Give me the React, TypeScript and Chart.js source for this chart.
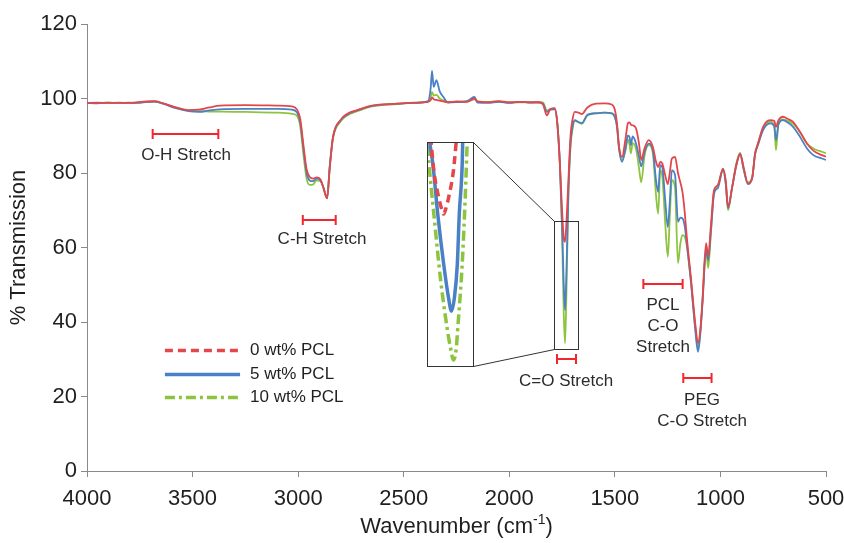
import React, { useEffect, useRef } from "react";
import { Chart, registerables } from "chart.js";

Chart.register(...registerables);

const FONT = '"Liberation Sans", Arial, Helvetica, sans-serif';

// ---------- data (wavenumber in cm-1, % transmission) ----------
const wavenumbers = [
  4000, 3950, 3900, 3850, 3800, 3760, 3720, 3680, 3640, 3580, 3520, 3470, 3420, 3370, 3250, 3100, 3030, 3005, 2990, 2975,
  2960, 2945, 2930, 2912, 2895, 2880, 2863, 2850, 2835, 2800, 2770, 2720, 2650, 2530, 2450, 2385, 2372, 2366, 2358, 2345,
  2330, 2312, 2290, 2250, 2200, 2165, 2150, 2100, 2050, 2000, 1950, 1900, 1860, 1840, 1822, 1805, 1785, 1772, 1760, 1750,
  1742, 1736, 1730, 1720, 1710, 1700, 1690, 1672, 1656, 1630, 1590, 1550, 1515, 1500, 1490, 1480, 1466, 1450, 1438, 1430,
  1424, 1416, 1400, 1386, 1375, 1360, 1340, 1320, 1305, 1295, 1285, 1275, 1262, 1249, 1240, 1230, 1215, 1201, 1190, 1180,
  1170, 1158, 1140, 1120, 1106, 1095, 1085, 1068, 1058, 1045, 1030, 1012, 988, 975, 964, 945, 925, 907, 890, 870,
  850, 836, 822, 798, 765, 745, 737, 725, 704, 680, 656, 623, 590, 560, 519, 500,
];

const pcl0 = [
  98.8, 98.9, 98.8, 98.9, 98.8, 99.0, 99.2, 99.3, 98.7, 97.6, 96.9, 97.0, 97.6, 98.1, 98.2, 98.1, 97.9, 97.0, 94.5, 87.5,
  81.0, 78.9, 78.5, 78.8, 78.3, 76.0, 73.2, 81.5, 89.6, 94.2, 95.8, 96.9, 98.1, 98.6, 98.9, 99.1, 99.6, 100.3, 99.8, 99.6,
  99.4, 99.2, 99.0, 99.2, 99.1, 100.0, 99.2, 99.0, 99.3, 99.0, 99.1, 99.0, 99.0, 98.4, 95.5, 97.2, 97.4, 93.0, 82.0, 70.0,
  62.5, 61.5, 66.0, 78.0, 90.0, 94.5, 96.4, 96.2, 95.8, 97.6, 98.6, 98.7, 98.4, 97.0, 93.4, 87.0, 84.3, 89.0, 93.4, 93.6,
  93.0, 92.8, 92.0, 88.0, 83.5, 86.5, 88.8, 87.0, 83.0, 81.6, 83.0, 82.5, 79.5, 77.0, 80.0, 83.9, 84.3, 80.0, 77.5, 75.0,
  70.0, 62.0, 52.0, 40.0, 34.3, 38.0, 46.0, 61.2, 57.5, 66.0, 75.5, 76.7, 81.2, 78.0, 70.9, 76.0, 82.0, 85.2, 81.5, 77.2,
  78.5, 85.2, 87.9, 92.4, 94.2, 94.0, 92.4, 94.2, 95.1, 94.5, 93.7, 91.0, 87.9, 86.0, 84.8, 84.4,
];

const pcl5 = [
  98.8, 98.7, 98.9, 98.8, 98.9, 98.8, 99.1, 99.2, 98.6, 97.4, 96.6, 96.4, 96.8, 97.1, 97.2, 97.2, 97.0, 96.2, 93.5, 86.5,
  80.0, 78.0, 77.8, 78.5, 78.1, 76.0, 73.2, 82.0, 89.6, 94.0, 95.6, 96.8, 98.0, 98.6, 98.8, 99.2, 103.0, 107.4, 103.1, 104.9,
  102.0, 100.4, 98.9, 99.0, 99.3, 100.4, 98.9, 98.8, 99.1, 98.8, 99.1, 98.9, 98.9, 98.6, 96.4, 97.0, 97.1, 93.0, 82.0, 66.0,
  50.0, 43.2, 52.0, 75.0, 88.0, 92.5, 94.2, 93.7, 93.4, 95.6, 96.0, 96.2, 96.0, 95.0, 92.5, 86.5, 83.0, 86.5, 90.1, 89.5,
  87.5, 89.8, 88.0, 84.5, 81.8, 85.5, 87.9, 86.1, 78.0, 74.9, 82.1, 81.5, 73.0, 65.5, 72.0, 80.7, 79.5, 66.9, 68.0, 67.8,
  66.0, 60.5, 51.0, 38.5, 32.0, 37.0, 45.0, 59.3, 56.6, 64.5, 74.5, 76.0, 80.8, 77.5, 70.5, 76.0, 82.0, 85.0, 81.0, 77.0,
  78.5, 85.0, 87.5, 91.5, 93.3, 92.5, 88.8, 93.0, 94.2, 93.5, 92.4, 89.7, 86.6, 84.8, 83.9, 83.5,
];

const pcl10 = [
  98.8, 98.8, 98.9, 98.8, 98.8, 98.9, 99.0, 99.1, 98.7, 97.6, 96.8, 96.6, 96.5, 96.5, 96.4, 96.2, 95.9, 95.3, 92.5, 85.0,
  78.5, 76.8, 76.9, 78.0, 77.9, 76.0, 73.3, 82.0, 89.3, 93.8, 95.4, 96.6, 97.9, 98.5, 98.8, 99.2, 100.5, 101.8, 100.8, 101.0,
  100.0, 99.5, 99.1, 99.1, 99.2, 99.8, 99.1, 99.1, 99.2, 98.9, 99.0, 98.9, 99.1, 98.9, 96.8, 97.2, 97.2, 93.0, 82.0, 64.0,
  42.0, 34.3, 46.0, 74.0, 87.0, 92.0, 94.0, 93.6, 93.2, 95.5, 96.1, 96.2, 96.1, 95.2, 92.5, 86.5, 83.4, 86.0, 89.0, 87.5,
  85.3, 88.0, 86.5, 81.5, 77.5, 84.5, 87.5, 85.3, 74.0, 69.1, 80.7, 79.0, 67.0, 57.5, 68.0, 78.1, 76.0, 55.8, 61.0, 63.3,
  63.0, 60.0, 51.0, 39.0, 32.7, 37.5, 45.5, 59.5, 54.5, 64.0, 75.0, 76.8, 81.0, 77.0, 70.0, 76.0, 82.5, 85.4, 81.0, 77.5,
  78.8, 85.0, 88.0, 91.8, 93.8, 92.8, 86.1, 93.5, 94.4, 94.0, 93.2, 91.0, 87.9, 86.6, 85.7, 85.3,
];

const seriesLabels = ["0 wt% PCL", "5 wt% PCL", "10 wt% PCL"];
const seriesColors = ["#E2474C", "#4A80C6", "#8DC43F"];
const legendDashes = [[8, 5], [], [10, 4, 3, 4]];

// inset (magnified C=O band)
const insetRedWn = [1756.5, 1752.2, 1745.7, 1741.7, 1739.1, 1736.5, 1732.6, 1726.1, 1721.8];
const insetRedT = [68.0, 62.4, 57.9, 56.0, 55.2, 56.0, 57.9, 62.4, 68.0];
const insetBlueWn = [1759.0, 1753.5, 1747.0, 1739.1, 1732.6, 1728.7, 1724.8, 1720.9, 1718.3, 1714.4, 1713.6];
const insetBlueT = [68.0, 63.5, 55.2, 46.9, 41.3, 39.1, 41.3, 46.9, 55.2, 63.5, 68.0];
const insetGreenWn = [1760.5, 1758.7, 1752.2, 1743.0, 1733.9, 1730.0, 1726.1, 1722.2, 1720.6, 1714.4, 1710.4, 1707.5];
const insetGreenT = [66.5, 63.5, 55.2, 44.1, 35.8, 33.0, 31.0, 33.0, 35.8, 46.9, 57.9, 68.0];

// zoom boxes (data units)
const smallBoxWn = [1787, 1673];
const smallBoxT = [67.1, 32.7];
const bigBoxWn = [2389, 2171];
const bigBoxT = [88.2, 28.3];

// band markers
const bandFrom = [3689, 2978, 1774, 1365, 1176];
const bandTo = [3378, 2822, 1684, 1179, 1042];
const bandLevel = [90.4, 67.3, 30.0, 50.2, 24.9];
const bandTextWn = [3531, 2887, 1731, 1272, 1087];
const bandText = [["O-H Stretch"], ["C-H Stretch"], ["C=O Stretch"], ["PCL", "C-O", "Stretch"], ["PEG", "C-O Stretch"]];
const bandTextT = [[84.8], [62.2], [24.1], [44.5, 38.9, 33.3], [19.0, 13.4]];

// legend placement (data units)
const legendLineWn = [3631, 3275];
const legendTextWn = 3228;
const legendT = [32.5, 26.0, 19.8];

const xTickValues = [4000, 3500, 3000, 2500, 2000, 1500, 1000, 500];
const yTickValues = [0, 20, 40, 60, 80, 100, 120];

const overlayPlugin = {
  id: "overlay",
  afterDraw(chart: any) {
    const { ctx, chartArea } = chart;
    const xs = chart.scales.x;
    const ys = chart.scales.y;
    const px = (v: number) => xs.getPixelForValue(v);
    const py = (v: number) => ys.getPixelForValue(v);
    ctx.save();

    // band markers
    for (let i = 0; i < bandFrom.length; i++) {
      const x1 = px(bandFrom[i]);
      const x2 = px(bandTo[i]);
      const yy = Math.round(py(bandLevel[i]));
      ctx.strokeStyle = "#F2262B";
      ctx.lineWidth = 2;
      ctx.setLineDash([]);
      ctx.beginPath();
      ctx.moveTo(x1, yy);
      ctx.lineTo(x2, yy);
      ctx.moveTo(x1, yy - 5);
      ctx.lineTo(x1, yy + 5);
      ctx.moveTo(x2, yy - 5);
      ctx.lineTo(x2, yy + 5);
      ctx.stroke();
      ctx.fillStyle = "#2b2b2b";
      ctx.font = `17px ${FONT}`;
      ctx.textAlign = "center";
      ctx.textBaseline = "middle";
      bandText[i].forEach((t, j) => ctx.fillText(t, px(bandTextWn[i]), py(bandTextT[i][j])));
    }

    // zoom boxes + connectors
    ctx.strokeStyle = "#333";
    ctx.lineWidth = 1;
    const sL = Math.round(px(smallBoxWn[0])) + 0.5;
    const sR = Math.round(px(smallBoxWn[1])) + 0.5;
    const sT = Math.round(py(smallBoxT[0])) + 0.5;
    const sB = Math.round(py(smallBoxT[1])) + 0.5;
    const bL = Math.round(px(bigBoxWn[0])) + 0.5;
    const bR = Math.round(px(bigBoxWn[1])) + 0.5;
    const bT = Math.round(py(bigBoxT[0])) + 0.5;
    const bB = Math.round(py(bigBoxT[1])) + 0.5;
    ctx.strokeRect(sL, sT, sR - sL, sB - sT);
    ctx.strokeRect(bL, bT, bR - bL, bB - bT);
    ctx.beginPath();
    ctx.moveTo(bR, bT);
    ctx.lineTo(sL, sT);
    ctx.moveTo(bR, bB);
    ctx.lineTo(sL, sB);
    ctx.stroke();

    // legend
    for (let i = 0; i < seriesLabels.length; i++) {
      const yy = Math.round(py(legendT[i])) + 0.5;
      ctx.strokeStyle = seriesColors[i];
      ctx.lineWidth = 3.5;
      ctx.setLineDash(legendDashes[i]);
      ctx.beginPath();
      ctx.moveTo(px(legendLineWn[0]), yy);
      ctx.lineTo(px(legendLineWn[1]), yy);
      ctx.stroke();
      ctx.setLineDash([]);
      ctx.fillStyle = "#1f1f1f";
      ctx.font = `17px ${FONT}`;
      ctx.textAlign = "left";
      ctx.textBaseline = "middle";
      ctx.fillText(seriesLabels[i], px(legendTextWn), yy);
    }

    // x axis title with superscript
    const main = "Wavenumber (cm";
    const sup = "-1";
    const close = ")";
    ctx.fillStyle = "#1f1f1f";
    ctx.textBaseline = "alphabetic";
    ctx.textAlign = "left";
    ctx.font = `22px ${FONT}`;
    const w1 = ctx.measureText(main).width;
    const w3 = ctx.measureText(close).width;
    ctx.font = `14px ${FONT}`;
    const w2 = ctx.measureText(sup).width;
    const total = w1 + w2 + w3;
    const cx = (chartArea.left + chartArea.right) / 2;
    const base = 533;
    let x0 = cx - total / 2;
    ctx.font = `22px ${FONT}`;
    ctx.fillText(main, x0, base);
    x0 += w1;
    ctx.font = `14px ${FONT}`;
    ctx.fillText(sup, x0, base - 9);
    x0 += w2;
    ctx.font = `22px ${FONT}`;
    ctx.fillText(close, x0, base);

    ctx.restore();
  },
};

export default function App() {
  const mainRef = useRef<HTMLCanvasElement>(null);
  const insetRef = useRef<HTMLCanvasElement>(null);

  useEffect(() => {
    const mainCanvas = mainRef.current!;
    const main = new Chart(mainCanvas, {
      type: "line",
      data: {
        datasets: [pcl0, pcl5, pcl10].map((vals, i) => ({
          label: seriesLabels[i],
          data: wavenumbers.map((w, k) => ({ x: w, y: vals[k] })),
          borderColor: seriesColors[i],
          backgroundColor: seriesColors[i],
          borderWidth: 1.8,
          pointRadius: 0,
          fill: false,
          cubicInterpolationMode: "monotone" as const,
        })),
      },
      options: {
        responsive: false,
        animation: false,
        layout: { padding: { top: 24, right: 18, left: 0, bottom: 0 } },
        plugins: { legend: { display: false }, tooltip: { enabled: false } },
        scales: {
          x: {
            type: "linear",
            reverse: true,
            min: 500,
            max: 4000,
            afterBuildTicks: (s: any) => {
              s.ticks = xTickValues.map((v) => ({ value: v }));
            },
            ticks: {
              autoSkip: false,
              maxRotation: 0,
              padding: 9,
              color: "#1f1f1f",
              font: { size: 22, family: FONT },
              callback: (v: any) => String(v),
            },
            grid: { drawOnChartArea: false, drawTicks: true, tickLength: 6, color: "#8a8a8a" },
            border: { color: "#8a8a8a", width: 1 },
            afterFit: (s: any) => {
              s.height = 72;
              s.paddingLeft = 0;
              s.paddingRight = 0;
            },
          },
          y: {
            type: "linear",
            min: 0,
            max: 120,
            afterBuildTicks: (s: any) => {
              s.ticks = yTickValues.map((v) => ({ value: v }));
            },
            ticks: {
              padding: 4,
              color: "#1f1f1f",
              font: { size: 22, family: FONT },
              callback: (v: any) => String(v),
            },
            grid: { drawOnChartArea: false, drawTicks: true, tickLength: 6, color: "#8a8a8a" },
            border: { color: "#8a8a8a", width: 1 },
            title: {
              display: true,
              text: "% Transmission",
              color: "#1f1f1f",
              font: { size: 22, family: FONT },
              padding: { top: 6, bottom: 0 },
            },
            afterFit: (s: any) => {
              s.width = 87;
              s.paddingTop = 0;
              s.paddingBottom = 0;
            },
          },
        },
      },
      plugins: [overlayPlugin],
    });

    const xs: any = main.scales.x;
    const ys: any = main.scales.y;
    const left = Math.round(xs.getPixelForValue(bigBoxWn[0])) + 1;
    const right = Math.round(xs.getPixelForValue(bigBoxWn[1]));
    const top = Math.round(ys.getPixelForValue(bigBoxT[0])) + 1;
    const bottom = Math.round(ys.getPixelForValue(bigBoxT[1]));
    const ic = insetRef.current!;
    ic.width = right - left;
    ic.height = bottom - top;
    ic.style.left = left + "px";
    ic.style.top = top + "px";
    ic.style.width = right - left + "px";
    ic.style.height = bottom - top + "px";

    const insetSets = [
      [insetRedWn, insetRedT],
      [insetBlueWn, insetBlueT],
      [insetGreenWn, insetGreenT],
    ];
    const inset = new Chart(ic, {
      type: "line",
      data: {
        datasets: insetSets.map(([wn, t], i) => ({
          label: seriesLabels[i],
          data: wn.map((w, k) => ({ x: w, y: t[k] })),
          borderColor: seriesColors[i],
          borderWidth: 3.5,
          borderDash: legendDashes[i],
          pointRadius: 0,
          fill: false,
          cubicInterpolationMode: "monotone" as const,
        })),
      },
      options: {
        responsive: false,
        animation: false,
        layout: { padding: 0 },
        plugins: { legend: { display: false }, tooltip: { enabled: false } },
        scales: {
          x: { type: "linear", reverse: true, min: 1700, max: 1760, display: false },
          y: { type: "linear", min: 30, max: 67, display: false },
        },
      },
    });

    return () => {
      inset.destroy();
      main.destroy();
    };
  }, []);

  return (
    <div style={{ position: "fixed", left: 0, top: 0, width: 844, height: 543, background: "#fff", overflow: "hidden" }}>
      <canvas ref={mainRef} width={844} height={543} style={{ position: "absolute", left: 0, top: 0 }} />
      <canvas ref={insetRef} style={{ position: "absolute" }} />
    </div>
  );
}
